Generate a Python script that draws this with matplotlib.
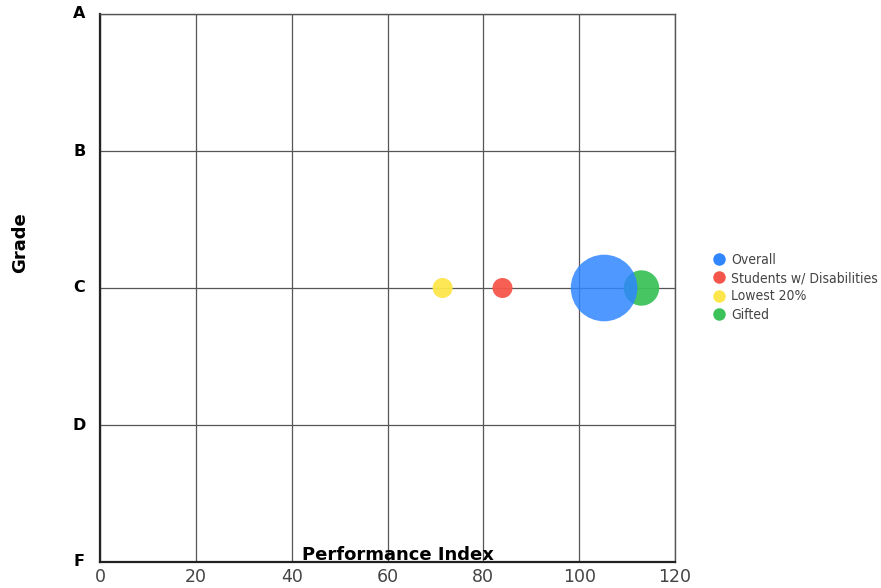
import matplotlib.pyplot as plt
from matplotlib.lines import Line2D
from matplotlib import font_manager

# series data
series = ["Overall", "Students w/ Disabilities", "Lowest 20%", "Gifted"]
perf_index = [105.2, 84.0, 71.5, 113.0]
grade_value = [2, 2, 2, 2]
bubble_size = [33.3, 10.0, 10.0, 17.7]   # bubble radius, relative
colors = ["#2f86ff", "#f5564b", "#fde64b", "#3cc259"]

grade_ticks = [0, 1, 2, 3, 4]
grade_labels = ["F", "D", "C", "B", "A"]
x_ticks = [0, 20, 40, 60, 80, 100, 120]


def radius_to_area(r_px, dpi=100):
    """scatter wants area in points^2, convert a radius in pixels"""
    d_pt = 2 * r_px * 72.0 / dpi
    return d_pt ** 2


fig = plt.figure(figsize=(8.81, 5.88), dpi=100)
ax = fig.add_axes([100 / 881, 1 - 562 / 588, 575 / 881, 548 / 588])

# draw order: green first, then the rest, blue sits over green
order = [3, 2, 1, 0]
for i in order:
    ax.scatter(perf_index[i], grade_value[i],
               s=radius_to_area(bubble_size[i]),
               color=colors[i], alpha=0.95 if i != 0 else 0.85,
               edgecolors="none", zorder=3)

ax.set_xlim(0, 120)
ax.set_ylim(0, 4)
ax.set_xticks(x_ticks)
ax.set_yticks(grade_ticks)
ax.set_yticklabels(grade_labels, fontweight="bold", fontsize=11.5)
ax.tick_params(axis="x", length=0, labelsize=12.5, labelcolor="#444444", pad=4)
ax.tick_params(axis="y", length=0, pad=15, labelcolor="black")
for lbl in ax.get_yticklabels():
    lbl.set_verticalalignment("center")
    lbl.set_horizontalalignment("center")

ax.grid(True, color="#555555", linewidth=0.9, zorder=1)
ax.set_axisbelow(True)
for side in ["top", "right"]:
    ax.spines[side].set_color("#555555")
    ax.spines[side].set_linewidth(1.0)
for side in ["left", "bottom"]:
    ax.spines[side].set_color("#222222")
    ax.spines[side].set_linewidth(1.6)

fig.text(398 / 881, 1 - 555 / 588, "Performance Index", ha="center", va="center",
         fontsize=13, fontweight="bold", color="black", zorder=5)
fig.text(20 / 881, 1 - 243 / 588, "Grade", ha="center", va="center",
         rotation=90, fontsize=13, fontweight="bold", color="black")

leg_font = font_manager.FontProperties(family="DejaVu Sans", stretch="condensed",
                                       size=10)
handles = [Line2D([], [], marker="o", linestyle="none", markersize=9,
                  markerfacecolor=c, markeredgecolor="none") for c in colors]
leg = fig.legend(handles, series, loc="upper left",
                 bbox_to_anchor=(705 / 881, 1 - 247 / 588),
                 frameon=False, prop=leg_font, handletextpad=0.3,
                 labelspacing=0.32, borderaxespad=0, handlelength=1.2)
for t in leg.get_texts():
    t.set_color("#444444")

fig.savefig("out.png", dpi=100)
